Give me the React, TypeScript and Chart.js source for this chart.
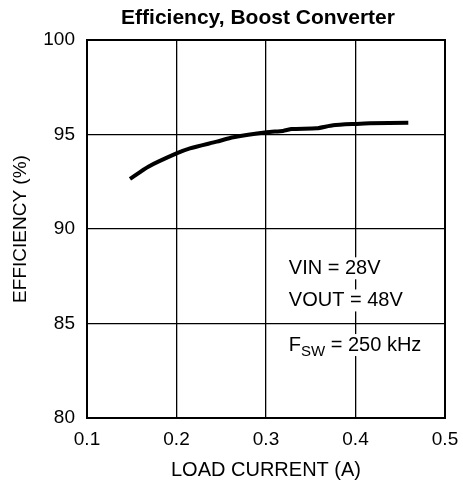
import React, { useEffect, useRef } from "react";
import { Chart, registerables } from "chart.js";

Chart.register(...registerables);

const TITLE = "Efficiency, Boost Converter";
const X_TITLE = "LOAD CURRENT (A)";
const Y_TITLE = "EFFICIENCY (%)";
const loadCurrent = [0.148, 0.1685, 0.2, 0.215, 0.245, 0.2635, 0.3007, 0.319, 0.3287, 0.3566, 0.375, 0.401, 0.416, 0.459];
const efficiency = [92.65, 93.3, 94.0, 94.27, 94.62, 94.85, 95.12, 95.19, 95.29, 95.33, 95.49, 95.56, 95.59, 95.62];
const xTicks = [0.1, 0.2, 0.3, 0.4, 0.5];
const yTicks = [80, 85, 90, 95, 100];
const notes = ["VIN = 28V", "VOUT = 48V", "F|SW| = 250 kHz"];
const noteX = 0.3255;
const noteY = [87.92, 86.22, 83.86];

const FONT = "'Liberation Sans', Arial, sans-serif";

const borderPlugin = {
  id: "borderBox",
  afterDatasetsDraw(chart: any) {
    const { ctx, chartArea } = chart;
    ctx.save();
    ctx.strokeStyle = "#000";
    ctx.lineWidth = 2;
    ctx.strokeRect(chartArea.left, chartArea.top, chartArea.right - chartArea.left, chartArea.bottom - chartArea.top);
    ctx.restore();
  },
};

const titlePlugin = {
  id: "chartTitle",
  afterDraw(chart: any) {
    const { ctx, chartArea } = chart;
    ctx.save();
    ctx.font = `bold 21px ${FONT}`;
    ctx.fillStyle = "#000";
    ctx.textAlign = "center";
    ctx.textBaseline = "middle";
    ctx.fillText(TITLE, (chartArea.left + chartArea.right) / 2 - 8, 18);
    ctx.restore();
  },
};

const notesPlugin = {
  id: "notes",
  afterDatasetsDraw(chart: any) {
    const { ctx } = chart;
    const xs = chart.scales.x;
    const ys = chart.scales.y;
    const left = xs.getPixelForValue(noteX);
    ctx.save();
    ctx.textBaseline = "middle";
    ctx.textAlign = "left";
    notes.forEach((t, i) => {
      const y = ys.getPixelForValue(noteY[i]);
      const parts = t.split("|");
      const big = `20px ${FONT}`;
      const small = `15px ${FONT}`;
      let w = 0;
      parts.forEach((p, j) => {
        ctx.font = j === 1 ? small : big;
        w += ctx.measureText(p).width;
      });
      ctx.fillStyle = "#fff";
      ctx.fillRect(left - 2, y - 11, w + 4, 22);
      ctx.fillStyle = "#000";
      let x = left;
      parts.forEach((p, j) => {
        ctx.font = j === 1 ? small : big;
        ctx.fillText(p, x, j === 1 ? y + 6.5 : y);
        x += ctx.measureText(p).width;
      });
    });
    ctx.restore();
  },
};

export default function App() {
  const ref = useRef<HTMLCanvasElement>(null);
  useEffect(() => {
    if (!ref.current) return;
    const chart = new Chart(ref.current, {
      type: "line",
      data: {
        datasets: [
          {
            data: loadCurrent.map((x, i) => ({ x, y: efficiency[i] })),
            borderColor: "#000",
            borderWidth: 4,
            pointRadius: 0,
            tension: 0.2,
            fill: false,
          },
        ],
      },
      options: {
        responsive: false,
        animation: false,
        layout: { padding: { left: 0, right: 18, top: 40, bottom: 0 } },
        plugins: {
          legend: { display: false },
          tooltip: { enabled: false },
          title: { display: false },
        },
        scales: {
          x: {
            type: "linear",
            min: 0.1,
            max: 0.5,
            afterBuildTicks: (s: any) => {
              s.ticks = xTicks.map((v) => ({ value: v }));
            },
            afterFit: (s: any) => {
              s.height = 69;
              s.paddingLeft = 0;
              s.paddingRight = 0;
            },
            ticks: {
              color: "#000",
              font: { family: FONT, size: 19 },
              padding: 10,
              callback: (v: any) => Number(v).toFixed(1),
            },
            grid: { color: "#000", lineWidth: 1.3, drawTicks: false },
            border: { color: "#000", width: 2 },
            title: {
              display: true,
              text: X_TITLE,
              color: "#000",
              font: { family: FONT, size: 20 },
              padding: { top: 0, bottom: 5 },
            },
          },
          y: {
            type: "linear",
            min: 80,
            max: 100,
            afterBuildTicks: (s: any) => {
              s.ticks = yTicks.map((v) => ({ value: v }));
            },
            afterFit: (s: any) => {
              s.width = 87;
              s.paddingTop = 0;
              s.paddingBottom = 0;
            },
            ticks: {
              color: "#000",
              font: { family: FONT, size: 19 },
              padding: 12,
            },
            grid: { color: "#000", lineWidth: 1.3, drawTicks: false },
            border: { color: "#000", width: 2 },
            title: {
              display: true,
              text: Y_TITLE,
              color: "#000",
              font: { family: FONT, size: 19 },
              padding: { top: 9, bottom: 0 },
            },
          },
        },
      },
      plugins: [borderPlugin, notesPlugin, titlePlugin],
    });
    return () => chart.destroy();
  }, []);
  return (
    <div style={{ position: "absolute", left: 0, top: 0, width: 463, height: 487, background: "#fff" }}>
      <canvas ref={ref} width={463} height={487} />
    </div>
  );
}
